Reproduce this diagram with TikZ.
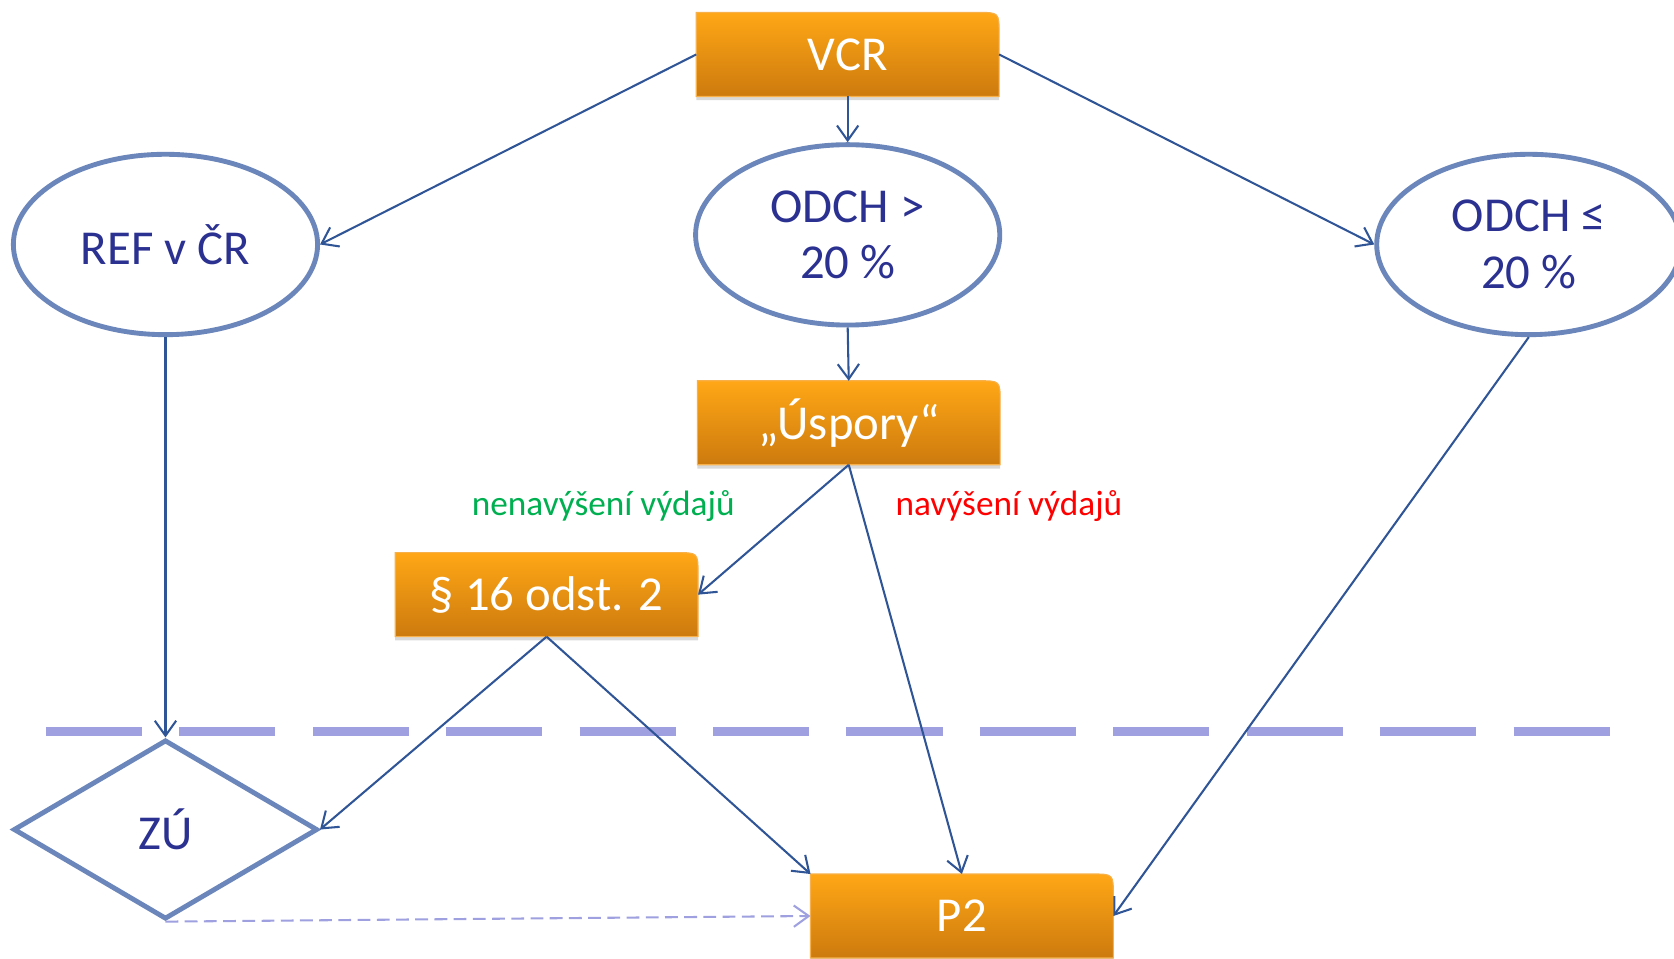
\documentclass[tikz,border=0pt]{standalone}
\usepackage{fontspec}
\setmainfont{Carlito}
\usetikzlibrary{arrows.meta,shapes.geometric,shadows,backgrounds}

\definecolor{boxtop}{HTML}{FFA716}
\definecolor{boxbot}{HTML}{CC7A0E}
\definecolor{boxedge}{HTML}{F7B04A}
\definecolor{navy}{HTML}{2B3190}
\definecolor{ovalline}{HTML}{6A86BA}
\definecolor{link}{HTML}{2F5597}
\definecolor{sepline}{HTML}{9EA0E0}
\definecolor{okgreen}{HTML}{00B050}

\newcommand\bigtxt{\fontsize{26}{30}\selectfont}
\newcommand\lbltxt{\fontsize{18.8}{22}\selectfont}

\tikzset{
  box/.style={minimum width=5.66cm, minimum height=1.56cm, inner sep=0pt, text=white, font=\bigtxt},
  boxbg/.style={top color=boxtop, bottom color=boxbot, draw=boxedge, line width=0.6pt,
    drop shadow={shadow xshift=0pt, shadow yshift=-0.07cm, opacity=0.3}},
  oval/.style={ellipse, draw=ovalline, line width=2.6pt, minimum width=5.7cm, minimum height=3.38cm,
    inner sep=0pt, text=navy, font=\bigtxt, align=center},
  decide/.style={diamond, draw=ovalline, line width=2.6pt, minimum width=5.7cm, minimum height=3.36cm,
    inner sep=0pt, text=navy, font=\bigtxt},
  conn/.style={draw=link, line width=1.1pt, -{Straight Barb[length=0.28cm, width=0.4cm]}},
  connlight/.style={draw=sepline, line width=1.1pt, dash pattern=on 0.24cm off 0.12cm,
    -{Straight Barb[length=0.28cm, width=0.4cm]}},
}

\begin{document}
\begin{tikzpicture}[x=0.02cm, y=-0.02cm]
    \useasboundingbox (0,0) rectangle (1568,898);

    % line between the two levels
    \draw[sepline, line width=0.18cm, dash pattern=on 1.8cm off 0.7cm] (43,685) -- (1513,685);

    \node[box] (vcr) at (794,51) {VCR};
    \node[oval] (ref) at (155,229) {REF v ČR};
    \node[oval] (odgt) at (794,220) {ODCH >\\20 \%};
    \node[oval] (odle) at (1432,229) {ODCH ≤\\20 \%};
    \node[box] (usp) at (795,396) {„Úspory“};
    \node[box] (par) at (512,557) {§ 16 odst. 2};
    \node[decide] (zu) at (155,777) {ZÚ};
    \node[box] (p2) at (901,858) {P2};

    \node[text=okgreen, font=\lbltxt] (nenav) at (565,474) {nenavýšení výdajů};
    \node[text=red, font=\lbltxt] (nav) at (945,474) {navýšení výdajů};

    % orange boxes, round corner top right
    \begin{pgfonlayer}{background}
    \foreach \b in {vcr,usp,par,p2}
        \path[boxbg] (\b.south west) -- (\b.north west) -- ([xshift=-0.4cm]\b.north east)
            .. controls (\b.north east) .. ([yshift=-0.4cm]\b.north east) -- (\b.south east) -- cycle;
    \end{pgfonlayer}

    \draw[conn] (vcr.west) -- (ref.east);
    \draw[conn] (vcr.south) -- (odgt.north);
    \draw[conn] (vcr.east) -- (odle.west);
    \draw[conn] (odgt.south) -- (usp.north);
    \draw[conn] (usp.south) -- (par.east);
    \draw[conn] (usp.south) -- (p2.north);
    \draw[conn] (par.south) -- (zu.east);
    \draw[conn] (par.south) -- (p2.north west);
    \draw[conn] (ref.south) -- (zu.north);
    \draw[conn] (odle.south) -- (p2.east);
    \draw[connlight] (zu.south) -- (p2.west);
\end{tikzpicture}
\end{document}
